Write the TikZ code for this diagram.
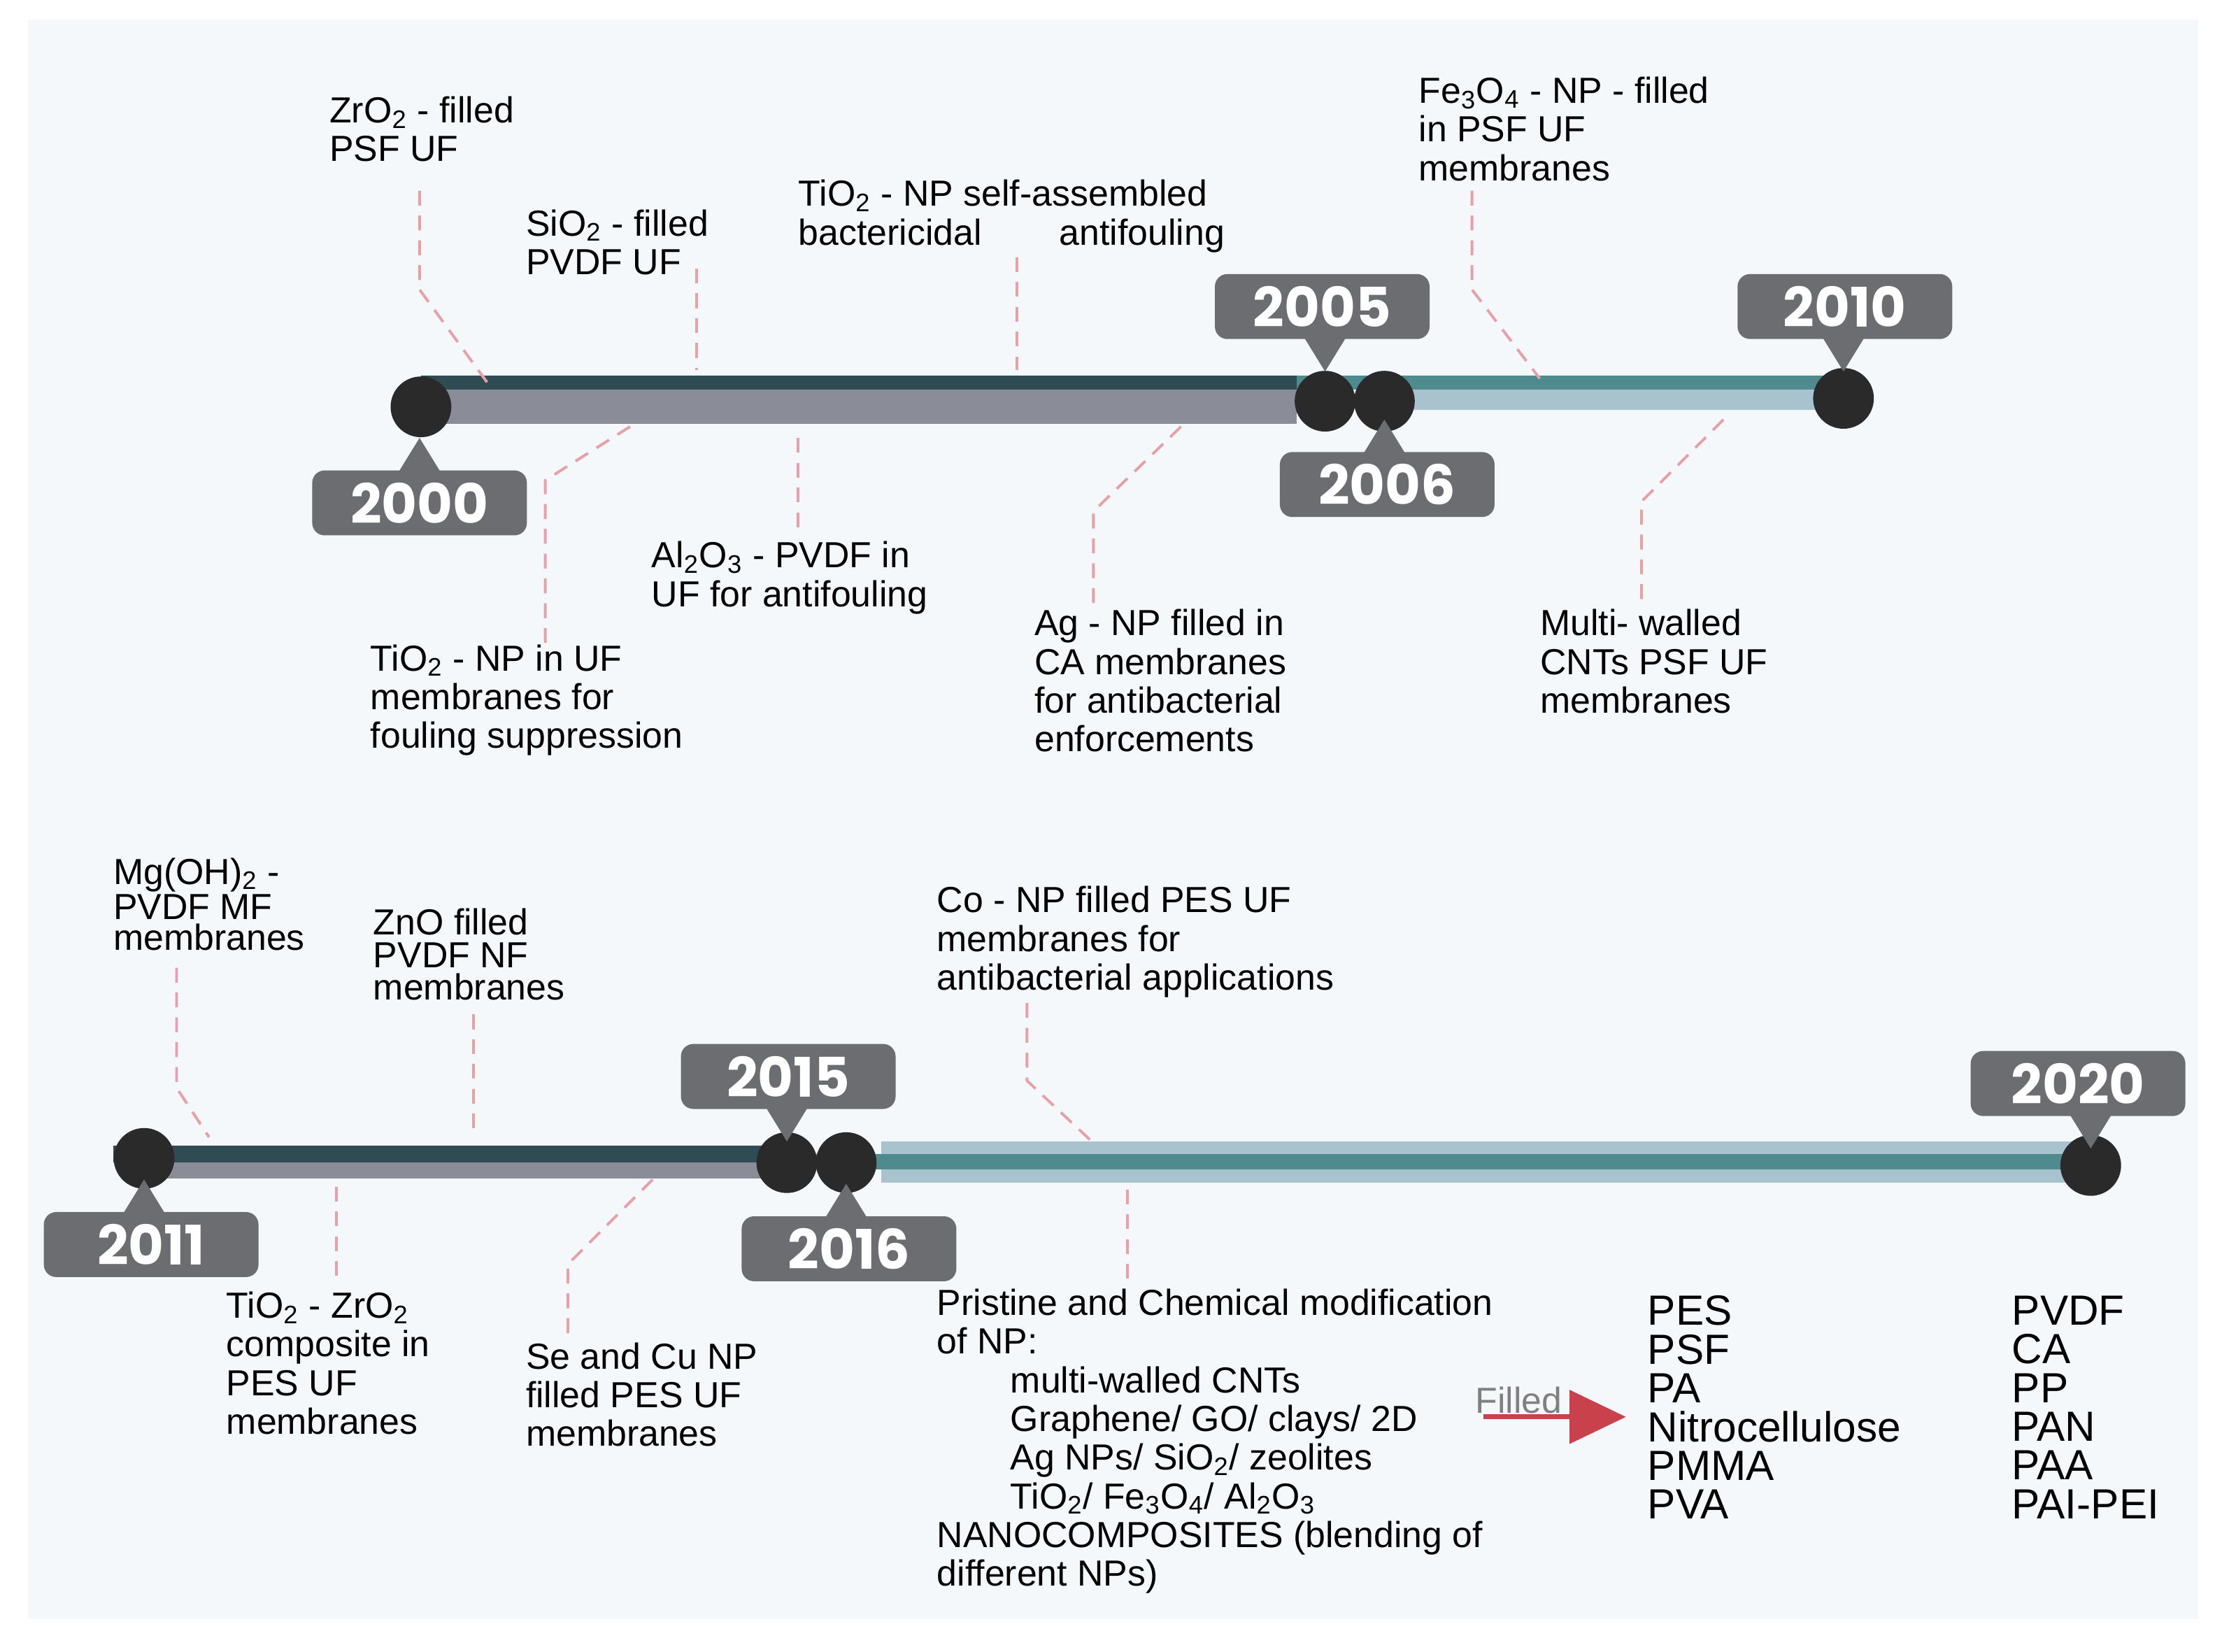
\documentclass[tikz,border=0pt]{standalone}
\usepackage{fontspec}
\setmainfont{Liberation Sans}
\newfontfamily\yf{Poppins}
\usetikzlibrary{arrows.meta}
\definecolor{bg}{HTML}{F4F8FB}
\definecolor{ybox}{HTML}{6B6D71}
\definecolor{dteal}{HTML}{2F4B53}
\definecolor{mteal}{HTML}{4F8A8E}
\definecolor{gbar}{HTML}{8A8C98}
\definecolor{lblue}{HTML}{A9C3CE}
\definecolor{pink}{HTML}{E8A0A6}
\definecolor{dot}{HTML}{2A2A2A}
\definecolor{arr}{HTML}{C8414B}
\newcommand{\sbs}[1]{\textsubscript{#1}}
\newcommand{\yrup}[5]{\node[yr] (#1) at (#2,#3) {#4};
  \fill[ybox] (#5,#3-46) -- (#5-16,#3-20) -- (#5+16,#3-20) -- cycle;}
\newcommand{\yrdown}[5]{\node[yr] (#1) at (#2,#3) {#4};
  \fill[ybox] (#5,#3+46) -- (#5-16,#3+20) -- (#5+16,#3+20) -- cycle;}
\tikzset{
  yr/.style={fill=ybox,rounded corners=5pt,minimum width=3.04cm,minimum height=0.92cm,text=white,font=\yf\bfseries\fontsize{22}{22}\selectfont,inner sep=0pt},
  dt/.style={circle,fill=dot,minimum size=0.86cm,inner sep=0pt},
  lead/.style={draw=pink,line width=1.1pt,dash pattern=on 6pt off 4pt},
  tx/.style={align=left,anchor=north west,inner sep=0pt,font=\fontsize{14.6}{15.6}\selectfont},
  lst/.style={align=left,anchor=north west,inner sep=0pt,font=\fontsize{17}{15.6}\selectfont},
}
\begin{document}
\begin{tikzpicture}[x=0.02cm,y=-0.02cm]
\useasboundingbox (0,0) rectangle (1568,1169);
\fill[white] (0,0) rectangle (1568,1169);
\fill[bg] (20,14) rectangle (1556,1146);
% top timeline
\fill[dteal] (298,266) rectangle (918,276);
\fill[gbar] (298,276) rectangle (918,300);
\fill[mteal] (918,266) rectangle (1300,276);
\fill[lblue] (980,276) rectangle (1300,290);
% bottom timeline
\fill[dteal] (80,811) rectangle (557,823);
\fill[gbar] (100,823) rectangle (557,834);
\fill[lblue] (624,808) rectangle (1470,837);
\fill[mteal] (557,817) rectangle (1470,828);
% leaders top
\draw[lead] (297,135) -- (297,205) -- (348,275);
\draw[lead] (493,190) -- (493,262);
\draw[lead] (720,182) -- (720,262);
\draw[lead] (1042,135) -- (1042,205) -- (1090,268);
\draw[lead] (446,302) -- (386,340) -- (386,455);
\draw[lead] (565,310) -- (565,380);
\draw[lead] (836,302) -- (774,362) -- (774,430);
\draw[lead] (1220,297) -- (1162,355) -- (1162,430);
% leaders bottom
\draw[lead] (125,685) -- (125,770) -- (148,805);
\draw[lead] (335,718) -- (335,805);
\draw[lead] (727,710) -- (727,765) -- (775,810);
\draw[lead] (238,840) -- (238,910);
\draw[lead] (462,835) -- (402,895) -- (402,950);
\draw[lead] (798,842) -- (798,910);
% dots
\node[dt] (c2000) at (298,288) {};
\node[dt] (c2005) at (938,284) {};
\node[dt] (c2006) at (980,284) {};
\node[dt] (c2010) at (1305,282) {};
\node[dt] (c2011) at (102,820) {};
\node[dt] (c2015) at (557,823) {};
\node[dt] (c2016) at (599,823) {};
\node[dt] (c2020) at (1480,825) {};
% year boxes
\yrup{y2000}{297}{356}{2000}{297}
\yrdown{y2005}{936}{217}{2005}{938}
\yrup{y2006}{982}{343}{2006}{980}
\yrdown{y2010}{1306}{217}{2010}{1305}
\yrup{y2011}{107}{881}{2011}{102}
\yrdown{y2015}{558}{762}{2015}{557}
\yrup{y2016}{601}{884}{2016}{599}
\yrdown{y2020}{1471}{767}{2020}{1480}
% texts top
\node[tx] (t1) at (233,68) {ZrO\sbs{2} - filled\\PSF UF};
\node[tx] (t2) at (372,148) {SiO\sbs{2} - filled\\PVDF UF};
\node[tx] (t3) at (565,127) {TiO\sbs{2} - NP self-assembled\\bactericidal\hspace{1.1cm}antifouling};
\node[tx] (t4) at (1004,54) {Fe\sbs{3}O\sbs{4} - NP - filled\\in PSF UF\\membranes};
\node[tx] (t5) at (262,456) {TiO\sbs{2} - NP in UF\\membranes for\\fouling suppression};
\node[tx] (t6) at (461,383) {Al\sbs{2}O\sbs{3} - PVDF in\\UF for antifouling};
\node[tx] (t7) at (732,431) {Ag - NP filled in\\CA membranes\\for antibacterial\\enforcements};
\node[tx] (t8) at (1090,431) {Multi- walled\\CNTs PSF UF\\membranes};
% texts bottom
\node[tx,font=\fontsize{14.6}{12.5}\selectfont] (b1) at (80,607) {Mg(OH)\sbs{2} -\\PVDF MF\\membranes};
\node[tx,font=\fontsize{14.6}{13}\selectfont] (b2) at (264,643) {ZnO filled\\PVDF NF\\membranes};
\node[tx] (b3) at (663,627) {Co - NP filled PES UF\\membranes for\\antibacterial applications};
\node[tx] (b4) at (160,914) {TiO\sbs{2} - ZrO\sbs{2}\\composite in\\PES UF\\membranes};
\node[tx] (b5) at (372,950) {Se and Cu NP\\filled PES UF\\membranes};
\node[tx] (b6) at (663,912) {Pristine and Chemical modification\\of NP:\\
\hspace*{1.04cm}multi-walled CNTs\\\hspace*{1.04cm}Graphene/ GO/ clays/ 2D\\\hspace*{1.04cm}Ag NPs/ SiO\sbs{2}/ zeolites\\\hspace*{1.04cm}TiO\sbs{2}/ Fe\sbs{3}O\sbs{4}/ Al\sbs{2}O\sbs{3}\\NANOCOMPOSITES (blending of\\different NPs)};
\node[lst] (l1) at (1166,917) {PES\\PSF\\PA\\Nitrocellulose\\PMMA\\PVA};
\node[lst] (l2) at (1424,917) {PVDF\\CA\\PP\\PAN\\PAA\\PAI-PEI};
\node[tx,text=gray,anchor=south west] (fl) at (1044,1001) {Filled};
\coordinate (a0) at (1050,1003);
\draw[arr,line width=2pt,-{Triangle[length=0.8cm,width=0.75cm]}] (a0) -- ([xshift=-0.3cm]l1.west |- a0);
\end{tikzpicture}
\end{document}
